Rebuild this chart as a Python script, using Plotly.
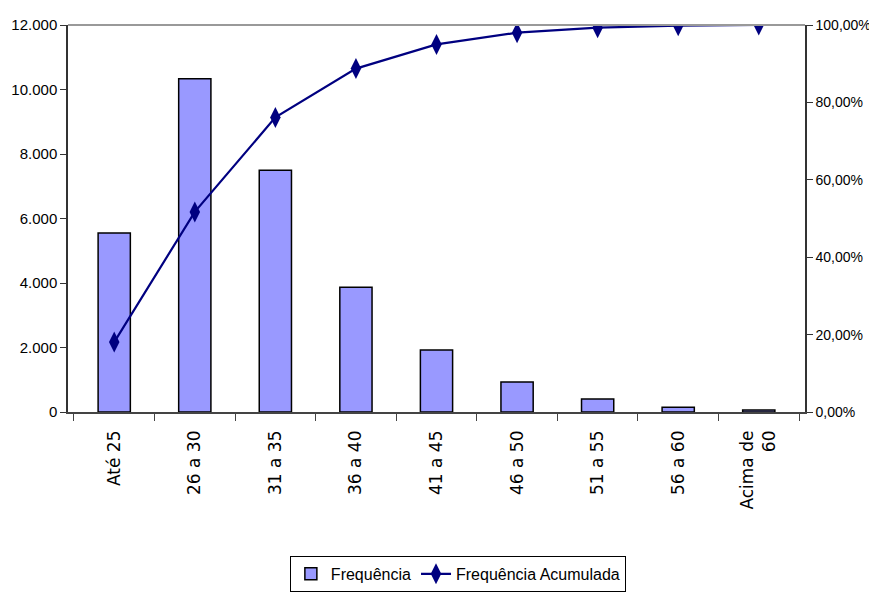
import plotly.graph_objects as go

categories = ["Até 25", "26 a 30", "31 a 35", "36 a 40", "41 a 45", "46 a 50", "51 a 55", "56 a 60", "Acima de<br>60"]
frequencia = [5550, 10330, 7500, 3870, 1920, 930, 400, 150, 60]
freq_acumulada = [0.1807, 0.5171, 0.7613, 0.8873, 0.9498, 0.9801, 0.9932, 0.9980, 1.0]

base = "Arial, Liberation Sans, sans-serif"

fig = go.Figure()
fig.add_trace(go.Bar(
    x=categories, y=frequencia, name="Frequência",
    marker=dict(color="#9999FF", line=dict(color="black", width=1.5)),
    width=0.4,
))
fig.add_trace(go.Scatter(
    x=categories, y=freq_acumulada, name="Frequência Acumulada", yaxis="y2",
    mode="lines+markers",
    line=dict(color="#000080", width=2.2),
    marker=dict(symbol="diamond-tall", size=15, color="#000080"),
))

fig.update_layout(
    width=869, height=598,
    margin=dict(l=60, r=72, t=17, b=194, autoexpand=False),
    paper_bgcolor="white", plot_bgcolor="white",
    separators=",.",
    font=dict(family=base, size=14, color="black"),
    showlegend=True,
    legend=dict(orientation="h", x=0.529, xanchor="center", y=-0.372, yanchor="top",
                bordercolor="black", borderwidth=1, font=dict(size=16, family=base)),
    xaxis=dict(showline=True, linecolor="#444", linewidth=1.5, ticks="outside",
               tickson="boundaries", ticklen=7, tickcolor="#444", tickangle=-90,
               tickfont=dict(size=17, family="DejaVu Sans, Arial, sans-serif"),
               ticklabelstandoff=10,
               showgrid=False, automargin=False),
    yaxis=dict(range=[0, 12000], dtick=2000, tickformat=",.0f", showline=True,
               linecolor="#333", linewidth=1.5, ticks="outside", ticklen=6,
               tickcolor="#333", showgrid=False, zeroline=False, automargin=False,
               tickfont=dict(size=15)),
    yaxis2=dict(range=[0, 1], dtick=0.2, tickformat=".2%", overlaying="y", side="right",
                showline=True, linecolor="#333", linewidth=1.5, ticks="outside",
                ticklen=6, tickcolor="#333", showgrid=False, zeroline=False,
                automargin=False, tickfont=dict(size=14)),
    bargap=0.6,
)
fig.add_shape(type="line", xref="paper", yref="paper", x0=0, x1=1, y0=1, y1=1,
              line=dict(color="#999999", width=2))

fig.write_html("out.html")
